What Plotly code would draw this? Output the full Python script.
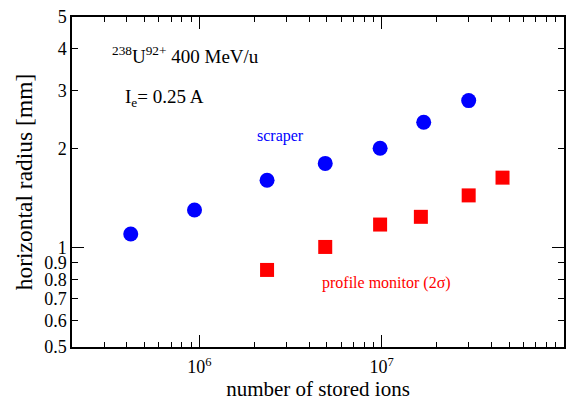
import plotly.graph_objects as go
import numpy as np

# Data
scraper_ions = [4.2e5, 9.4e5, 2.35e6, 4.9e6, 9.8e6, 1.70e7, 3.0e7]
scraper_radius = [1.10, 1.30, 1.60, 1.80, 2.00, 2.40, 2.79]
monitor_ions = [2.35e6, 4.9e6, 9.8e6, 1.64e7, 3.0e7, 4.6e7]
monitor_radius = [0.856, 1.005, 1.175, 1.24, 1.44, 1.63]

x_major = [1e6, 1e7]
x_major_text = ["10<sup>6</sup>", "10<sup>7</sup>"]
x_minor = [m * 10 ** e for e in (5, 6, 7) for m in range(2, 10)]
y_ticks = [0.5, 0.6, 0.7, 0.8, 0.9, 1, 2, 3, 4, 5]
y_tick_text = ["0.5", "0.6", "0.7", "0.8", "0.9", "1", "2", "3", "4", "5"]
y_major = [1]

FONT = "Liberation Serif, Times New Roman, serif"

fig = go.Figure()
fig.add_trace(go.Scatter(x=scraper_ions, y=scraper_radius, mode="markers",
                         marker=dict(symbol="circle", size=15, color="#0000ff", line=dict(width=0)),
                         showlegend=False))
fig.add_trace(go.Scatter(x=monitor_ions, y=monitor_radius, mode="markers",
                         marker=dict(symbol="square", size=14, color="#ff0000", line=dict(width=0)),
                         showlegend=False))
# invisible trace to activate yaxis2
fig.add_trace(go.Scatter(x=[1e6], y=[1], mode="markers", marker=dict(opacity=0),
                         yaxis="y2", showlegend=False, hoverinfo="skip"))

xr = [np.log10(2e5), 8]
yr = [np.log10(0.5), np.log10(5)]

fig.update_layout(
    width=567, height=401,
    margin=dict(l=72, r=1, t=17, b=54),
    paper_bgcolor="white", plot_bgcolor="white",
    font=dict(family=FONT, color="black", size=18),
    xaxis=dict(type="log", range=xr, showgrid=False, zeroline=False,
               showline=True, linecolor="black", linewidth=1.5, mirror="ticks",
               ticks="inside", ticklen=12, tickwidth=1, tickcolor="black",
               tickmode="array", tickvals=x_major, ticktext=x_major_text,
               tickfont=dict(size=18), ticklabelstandoff=3,
               minor=dict(tickmode="array", tickvals=x_minor, ticks="inside",
                          ticklen=5, tickwidth=1, tickcolor="black", showgrid=False),
               title=dict(text="number of stored ions", font=dict(size=21), standoff=7)),
    yaxis=dict(type="log", range=yr, showgrid=False, zeroline=False,
               showline=True, linecolor="black", linewidth=1.5, mirror="ticks",
               ticks="inside", ticklen=6, tickwidth=1, tickcolor="black",
               tickmode="array", tickvals=y_ticks, ticktext=y_tick_text,
               tickfont=dict(size=18),
               title=dict(text="horizontal radius [mm]", font=dict(size=23.5), standoff=5)),
    yaxis2=dict(type="log", range=yr, overlaying="y", showgrid=False, zeroline=False,
                showline=False, mirror="ticks", ticks="inside", ticklen=12,
                tickwidth=1, tickcolor="black", tickmode="array", tickvals=y_major,
                showticklabels=False),
)

annotations = [
    dict(text="<sup>238</sup>U<sup>92+</sup> 400 MeV/u", x=(110 - 72) / 494, y=(347 - 55) / 330,
         font=dict(size=19, color="black")),
    dict(text="I<sub>e</sub>= 0.25 A", x=(123 - 72) / 494, y=(347 - 98) / 330,
         font=dict(size=19, color="black")),
    dict(text="scraper", x=(256 - 72) / 494, y=(347 - 136) / 330,
         font=dict(size=16, color="#0000ff")),
    dict(text="profile monitor (2σ)", x=(321 - 72) / 494, y=(347 - 283) / 330,
         font=dict(size=16, color="#ff0000")),
]
for a in annotations:
    fig.add_annotation(xref="paper", yref="paper", xanchor="left", yanchor="middle",
                       showarrow=False, **a)

fig.write_html("out.html")
